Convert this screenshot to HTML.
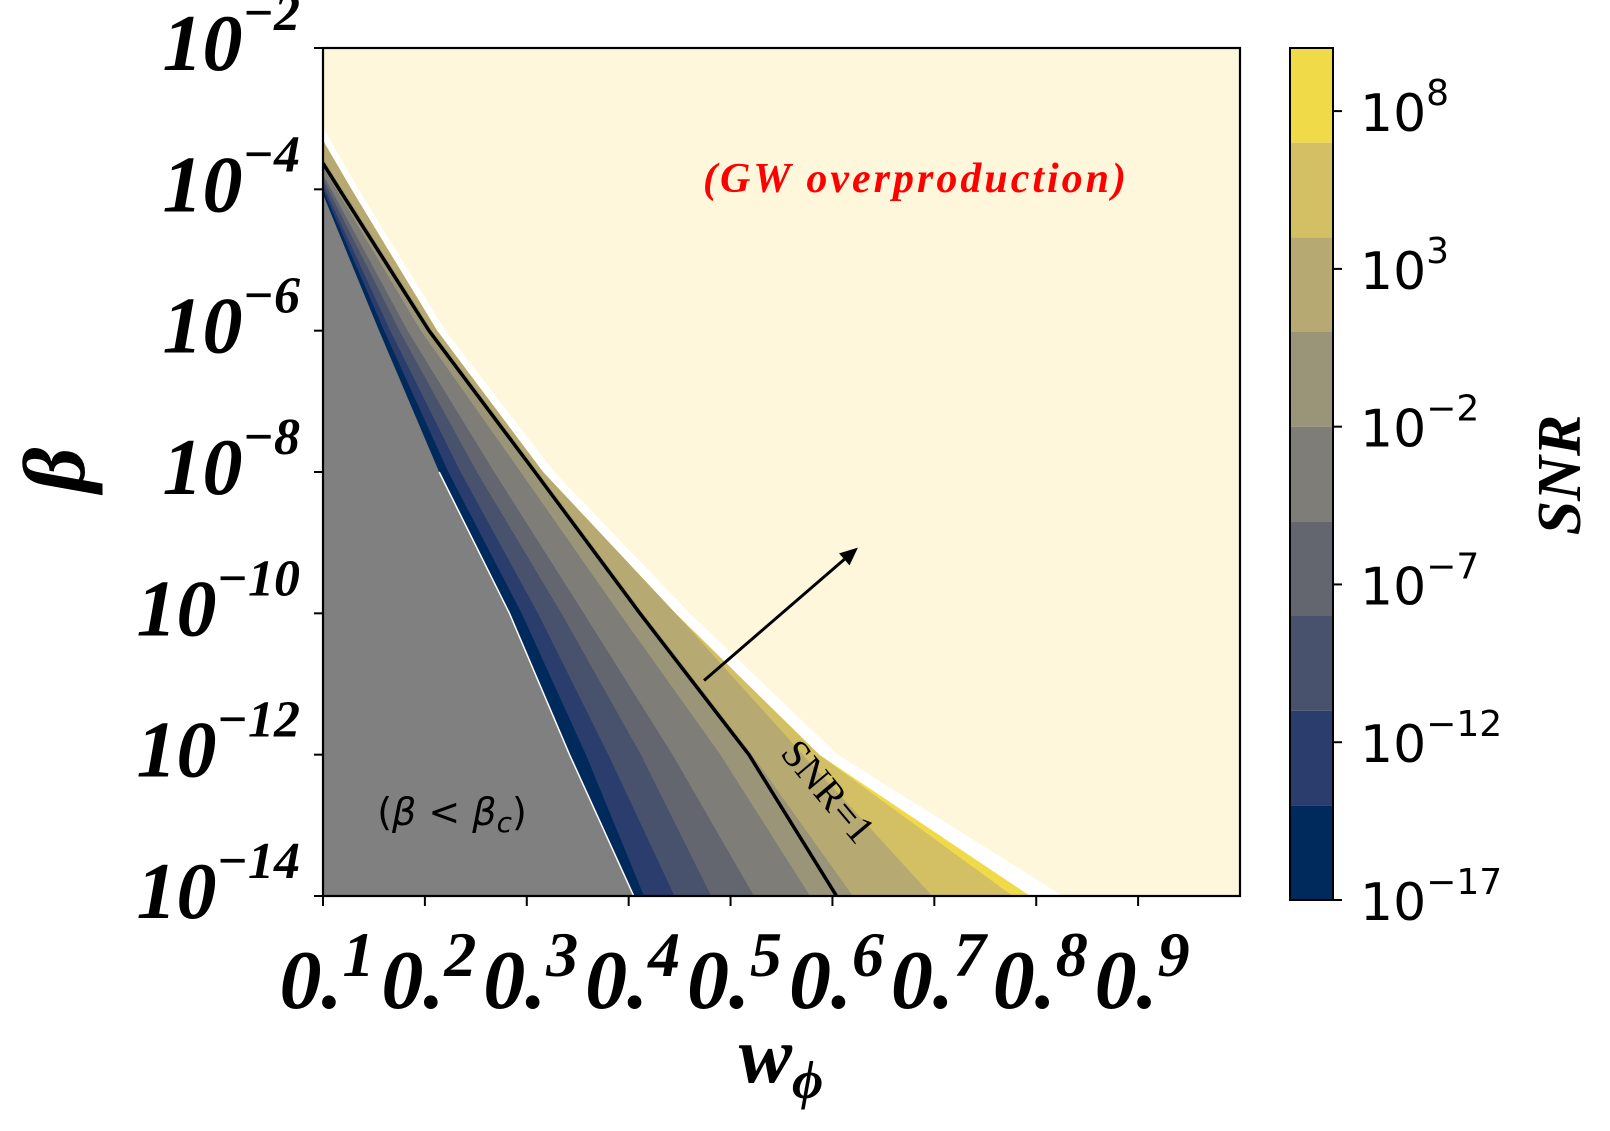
<!DOCTYPE html>
<html><head><meta charset="utf-8"><style>
html,body{margin:0;padding:0;background:#fff;}
svg{display:block;}
</style></head><body>
<svg id="chart" width="1610" height="1131" xmlns="http://www.w3.org/2000/svg">
<defs><clipPath id="plotclip"><rect x="323" y="48" width="917" height="848"/></clipPath></defs>
<rect x="323" y="48" width="917" height="848" fill="#fef7dc"/>
<g id="bands" clip-path="url(#plotclip)"></g>
<g id="overlay"></g>
<g id="axes"></g>
<g id="cbar"></g>
</svg>
<script>
// log10(beta) sample levels
const levels = [-2, -4, -6, -8, -10, -12, -14];
// w_phi positions of each contour boundary at those levels
const whiteEdge = [0.055,0.135,0.220,0.327,0.460,0.605,0.826];
const outer = [0.047,0.128,0.212,0.316,0.446,0.587,0.794];
const b8 = [0.047,0.128,0.212,0.316,0.446,0.587,0.777];
const b7 = [0.047,0.128,0.212,0.316,0.446,0.571,0.698];
const b6 = [0.031,0.119,0.207,0.311,0.414,0.521,0.620];
const b5 = [0.029,0.113,0.196,0.294,0.391,0.490,0.578];
const b4 = [0.032,0.108,0.183,0.268,0.356,0.443,0.523];
const b3 = [0.035,0.105,0.175,0.251,0.334,0.412,0.481];
const b2 = [0.038,0.102,0.166,0.235,0.311,0.380,0.445];
const b1 = [0.040,0.100,0.160,0.223,0.295,0.358,0.415];
const b0 = [0.041,0.098,0.155,0.214,0.283,0.342,0.405];
const snr1 = [0.029,0.116,0.204,0.308,0.411,0.518,0.604];
const bandColors = ['#002a5c','#2b3d6c','#48526c','#63666f','#7e7d78','#9a9478','#b7a972','#d4c064','#f1da47'];
const xTicks = [0.1,0.2,0.3,0.4,0.5,0.6,0.7,0.8,0.9];
const yTicks = [-2,-4,-6,-8,-10,-12,-14];
const cbTicks = [8,3,-2,-7,-12,-17];
const cbBounds = [-17,-14,-11,-8,-5,-2,1,4,7,10];
const arrowFrom = [0.474,-10.95];
const arrowTo = [0.625,-9.07];

const NS='http://www.w3.org/2000/svg';
const X0=323,X1=1240,Y0=48,Y1=896;
const xs=w=>X0+(w-0.1)/(1.0-0.1)*(X1-X0);
const ys=L=>Y0+(-2-L)/12*(Y1-Y0);
function mk(tag,attrs,parent){const e=document.createElementNS(NS,tag);for(const k in attrs)e.setAttribute(k,attrs[k]);parent.appendChild(e);return e;}
const bands=document.getElementById('bands');
function leftPoly(arr){let p=[];levels.forEach((L,i)=>p.push(xs(arr[i])+','+ys(L)));p.push('0,'+ys(-14)+' 0,'+ys(-2));return p.join(' ');}
let e;
e=mk('polygon',{points:leftPoly(whiteEdge),fill:'#ffffff'},bands);


const seq=[[outer,8],[b8,7],[b7,6],[b6,5],[b5,4],[b4,3],[b3,2],[b2,1],[b1,0]];
seq.forEach(([arr,ci])=>{
 const p=mk('polygon',{points:leftPoly(arr),fill:bandColors[ci]},bands);
 
 
});
e=mk('polygon',{points:leftPoly(b0),fill:'#808080'},bands);


e=mk('polyline',{points:levels.slice(3).map((L,i)=>xs(b0[i+3])+','+ys(L)).join(' '),fill:'none',stroke:'#fff','stroke-width':1.5},bands);


e=mk('polyline',{points:levels.map((L,i)=>xs(snr1[i])+','+ys(L)).join(' '),fill:'none',stroke:'#000','stroke-width':3.5},bands);



const ov=document.getElementById('overlay');
const ax1=xs(arrowFrom[0]),ay1=ys(arrowFrom[1]),ax2=xs(arrowTo[0]),ay2=ys(arrowTo[1]);
const ang=Math.atan2(ay2-ay1,ax2-ax1);
const hl=18,hw=8;
const bx=ax2-hl*Math.cos(ang),by=ay2-hl*Math.sin(ang);
e=mk('line',{x1:ax1,y1:ay1,x2:bx,y2:by,stroke:'#000','stroke-width':3},ov);


e=mk('polygon',{points:`${ax2},${ay2} ${bx-hw*Math.sin(ang)},${by+hw*Math.cos(ang)} ${bx+hw*Math.sin(ang)},${by-hw*Math.cos(ang)}`,fill:'#000'},ov);


e=mk('text',{x:916,y:192,'text-anchor':'middle','font-family':'Liberation Serif, serif','font-style':'italic','font-weight':'bold','font-size':42,'letter-spacing':3,fill:'#ff0000'},ov);
e.textContent='(GW overproduction)';


e=mk('text',{x:452,y:825,'text-anchor':'middle','font-family':'DejaVu Sans, sans-serif','font-size':38,fill:'#000'},ov);
e.innerHTML='(<tspan font-style="italic">β</tspan> &lt; <tspan font-style="italic">β</tspan><tspan font-style="italic" font-size="28" dy="7">c</tspan><tspan dy="-7">)</tspan>';


e=mk('text',{x:0,y:0,'text-anchor':'middle','font-family':'Liberation Serif, serif','font-size':40,fill:'#000',transform:'translate(818,800) rotate(50)'},ov);
e.textContent='SNR=1';



const axg=document.getElementById('axes');
e=mk('rect',{x:X0,y:Y0,width:X1-X0,height:Y1-Y0,fill:'none',stroke:'#000','stroke-width':2.2},axg);


yTicks.forEach(L=>{
 const y=ys(L);
 const t=mk('line',{x1:X0-9,y1:y,x2:X0,y2:y,stroke:'#000','stroke-width':2},axg);
 
 
 const tx=mk('text',{x:300,y:y+22,'text-anchor':'end','font-family':'Liberation Serif, serif','font-style':'italic','font-weight':'bold','font-size':80,fill:'#000'},axg);
 tx.innerHTML='10<tspan font-size="52" dy="-40">−'+(-L)+'</tspan>';
 
 
});
xTicks.forEach(w=>{
 const x=xs(w);
 const t=mk('line',{x1:x,y1:Y1,x2:x,y2:Y1+10,stroke:'#000','stroke-width':2},axg);
 
 
 const s=w.toFixed(1);
 const tx=mk('text',{x:x+4,y:1008,'text-anchor':'middle','font-family':'Liberation Serif, serif','font-style':'italic','font-weight':'bold','font-size':84,fill:'#000'},axg);
 tx.innerHTML=s.slice(0,2)+'<tspan dy="-32" font-size="64">'+s.slice(2)+'</tspan>';
 
 
});
e=mk('text',{x:781,y:1082,'text-anchor':'middle','font-family':'Liberation Serif, serif','font-style':'italic','font-weight':'bold','font-size':80,fill:'#000'},axg);
e.innerHTML='w<tspan font-size="54" dy="16">ϕ</tspan>';


e=mk('text',{x:0,y:0,'text-anchor':'middle','font-family':'Liberation Serif, serif','font-style':'italic','font-weight':'bold','font-size':88,fill:'#000',transform:'translate(84,470) rotate(-90)'},axg);
e.textContent='β';



const cb=document.getElementById('cbar');
const CX0=1290,CX1=1333,CY0=48,CY1=900;
const cy=v=>CY1-(v-(-17))/27*(CY1-CY0);
for(let i=0;i<bandColors.length;i++){
 const r=mk('rect',{x:CX0,y:cy(cbBounds[i+1]),width:CX1-CX0,height:cy(cbBounds[i])-cy(cbBounds[i+1]),fill:bandColors[i]},cb);
 
 
}
e=mk('rect',{x:CX0,y:CY0,width:CX1-CX0,height:CY1-CY0,fill:'none',stroke:'#000','stroke-width':2},cb);


cbTicks.forEach(v=>{
 const y=cy(v);
 const t=mk('line',{x1:CX1,y1:y,x2:CX1+9,y2:y,stroke:'#000','stroke-width':2},cb);
 
 
 const tx=mk('text',{x:1360,y:y+20,'font-family':'DejaVu Sans, sans-serif','font-size':52,fill:'#000'},cb);
 tx.innerHTML='10<tspan font-size="36" dy="-26">'+(v<0?'−'+(-v):v)+'</tspan>';
 
 
});
e=mk('text',{x:0,y:0,'text-anchor':'middle','font-family':'Liberation Serif, serif','font-style':'italic','font-weight':'bold','font-size':62,fill:'#000',transform:'translate(1580,475) rotate(-90)'},cb);
e.textContent='SNR';


</script>
</body></html>
